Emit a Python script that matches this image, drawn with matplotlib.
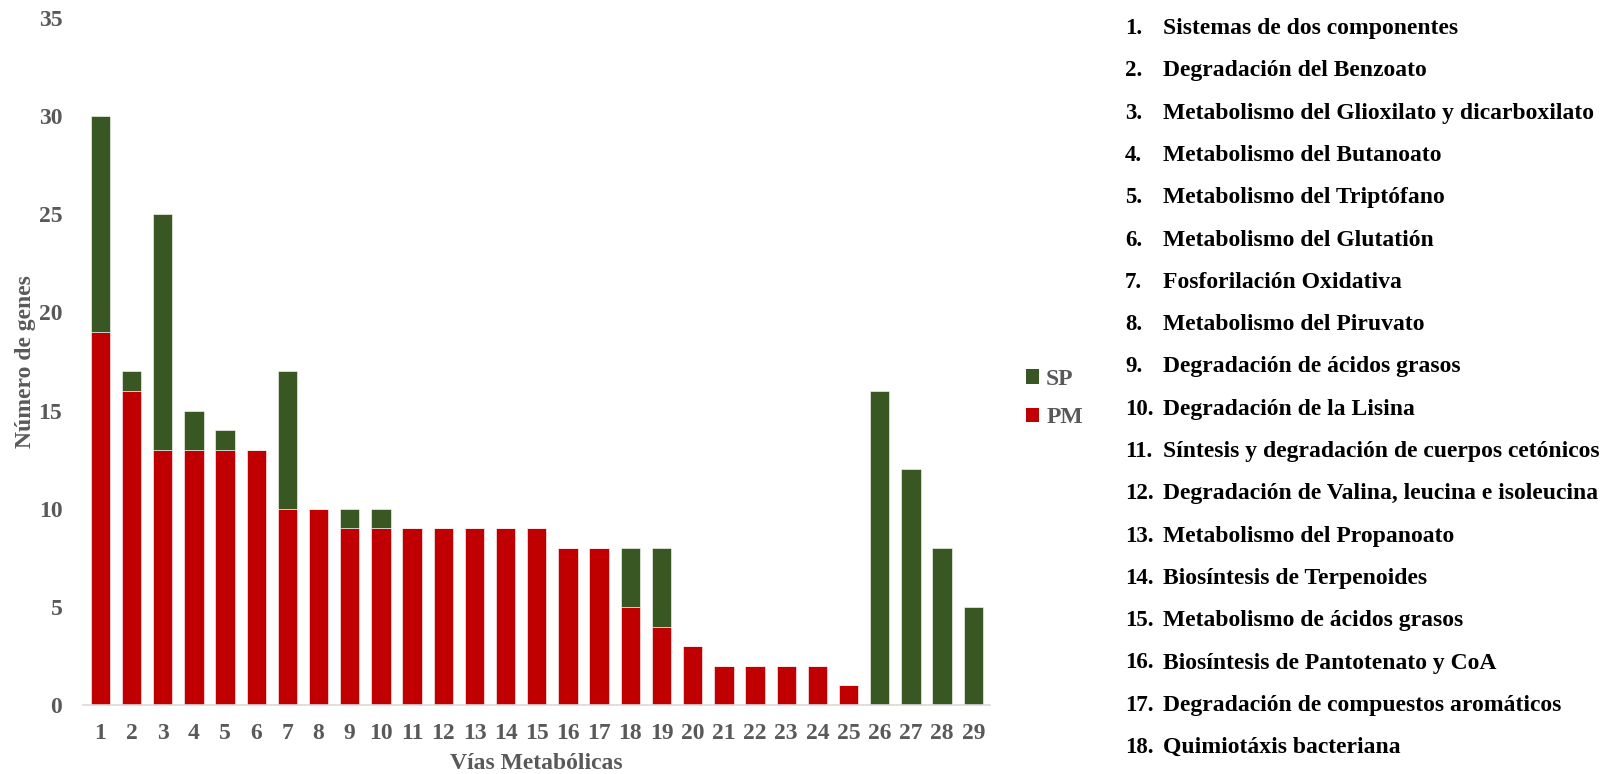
import numpy as np
import matplotlib
matplotlib.use("Agg")
import matplotlib.pyplot as plt
from matplotlib.patches import Patch

# data
vias = list(range(1, 30))
pm = [19, 16, 13, 13, 13, 13, 10, 10, 9, 9, 9, 9, 9, 9, 9, 8, 8, 5, 4, 3, 2, 2, 2, 2, 1, 0, 0, 0, 0]
sp = [11, 1, 12, 2, 1, 0, 7, 0, 1, 1, 0, 0, 0, 0, 0, 0, 0, 3, 4, 0, 0, 0, 0, 0, 0, 16, 12, 8, 5]

nombres = [
    "Sistemas de dos componentes",
    "Degradación del Benzoato",
    "Metabolismo del Glioxilato y dicarboxilato",
    "Metabolismo del Butanoato",
    "Metabolismo del Triptófano",
    "Metabolismo del Glutatión",
    "Fosforilación Oxidativa",
    "Metabolismo del Piruvato",
    "Degradación de ácidos grasos",
    "Degradación de la Lisina",
    "Síntesis y degradación de cuerpos cetónicos",
    "Degradación de Valina, leucina e isoleucina",
    "Metabolismo del Propanoato",
    "Biosíntesis de Terpenoides",
    "Metabolismo de ácidos grasos",
    "Biosíntesis de Pantotenato y CoA",
    "Degradación de compuestos aromáticos",
    "Quimiotáxis bacteriana",
]

ROJO = "#C00000"
VERDE = "#385723"
GRIS = "#595959"

plt.rcParams['font.family'] = ['Liberation Serif', 'DejaVu Serif']
plt.rcParams['font.weight'] = 'bold'

fig = plt.figure(figsize=(16, 7.74), dpi=100)
ax = fig.add_axes([0.052, 0.089, 0.567, 0.888])

x = np.array(vias)
ax.bar(x, pm, width=0.62, color=ROJO, edgecolor="white", linewidth=0.4, label="PM", zorder=2)
ax.bar(x, sp, width=0.62, bottom=pm, color=VERDE, edgecolor="white", linewidth=0.4, label="SP", zorder=2)

ax.set_xlim(0.45, 29.55)
ax.set_ylim(0, 35)
ax.set_yticks(range(0, 36, 5))
ax.set_xticks(x)
ax.tick_params(axis='both', length=0, labelsize=17, labelcolor=GRIS)
ax.tick_params(axis='y', pad=15)
ax.tick_params(axis='x', pad=13)

for s in ['top', 'right', 'left']:
    ax.spines[s].set_visible(False)
ax.spines['bottom'].set_color("#D9D9D9")
ax.spines['bottom'].set_linewidth(1.2)

ax.set_xlabel("Vías Metabólicas", fontsize=17, color=GRIS, fontweight='bold', labelpad=6)
ax.set_ylabel("Número de genes", fontsize=17, color=GRIS, fontweight='bold', labelpad=2)

handles = [Patch(facecolor=VERDE, label="SP"), Patch(facecolor=ROJO, label="PM")]
leg = fig.legend(handles=handles, loc='center left', bbox_to_anchor=(0.628, 0.485),
                 frameon=False, fontsize=17, handlelength=0.55, handleheight=0.55,
                 handletextpad=0.3, labelspacing=0.75)
for t in leg.get_texts():
    t.set_color(GRIS)

# numbered list on the right
for i, nombre in enumerate(nombres):
    yy = 1 - (34 + i * 42.3) / 774
    fig.text(1125 / 1600, yy, f"{i + 1}.", fontsize=16.5, color="black", va='baseline', ha='left')
    fig.text(1163 / 1600, yy, nombre, fontsize=17, color="black", va='baseline', ha='left')

fig.savefig("out.png", dpi=100)
